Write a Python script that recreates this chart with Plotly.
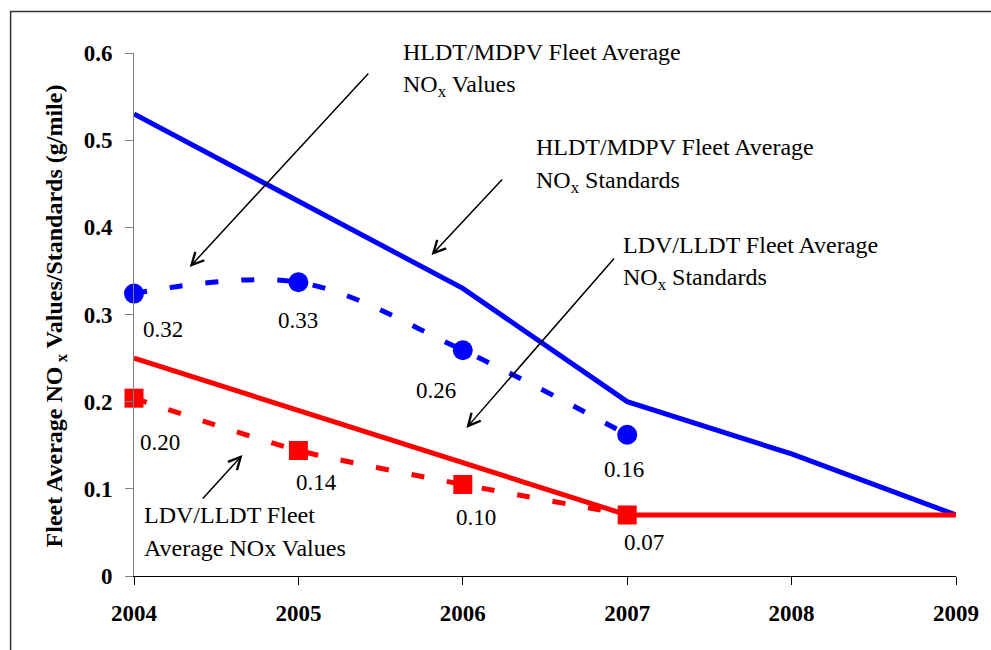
import plotly.graph_objects as go

# ---------------- data ----------------
years = [2004, 2005, 2006, 2007, 2008, 2009]
hldt_std = [0.53, 0.43, 0.33, 0.20, 0.14, 0.07]
ldv_std = [0.25, 0.19, 0.13, 0.07, 0.07, 0.07]
value_years = [2004, 2005, 2006, 2007]
hldt_val = [0.324, 0.337, 0.259, 0.162]
ldv_val = [0.204, 0.144, 0.105, 0.07]
hldt_labels = ["0.32", "0.33", "0.26", "0.16"]
ldv_labels = ["0.20", "0.14", "0.10", "0.07"]
y_ticks = [0, 0.1, 0.2, 0.3, 0.4, 0.5, 0.6]
y_ticktext = ["0", "0.1", "0.2", "0.3", "0.4", "0.5", "0.6"]
y_title = "Fleet Average NO<sub> x</sub> Values/Standards (g/mile)"

BLUE = "#0000FF"
RED = "#FF0000"
FONT = "Liberation Serif, Times New Roman, serif"

W, H = 991, 650
L, R, T, B = 134, 31, 53, 74
PW, PH = W - L - R, H - T - B


def px(x):
    return (x - L) / PW


def py(y):
    return (H - B - y) / PH


fig = go.Figure()

fig.add_trace(go.Scatter(x=years, y=hldt_std, mode="lines",
                         line=dict(color=BLUE, width=5), cliponaxis=False,
                         name="HLDT/MDPV Fleet Average NOx Standards"))
fig.add_trace(go.Scatter(x=years, y=ldv_std, mode="lines",
                         line=dict(color=RED, width=5), cliponaxis=False,
                         name="LDV/LLDT Fleet Average NOx Standards"))
fig.add_trace(go.Scatter(x=value_years, y=hldt_val, mode="lines+markers",
                         line=dict(color=BLUE, width=5, dash="13px,23px",
                                   shape="spline", smoothing=1),
                         marker=dict(symbol="circle", size=20, color=BLUE),
                         cliponaxis=False,
                         name="HLDT/MDPV Fleet Average NOx Values"))
fig.add_trace(go.Scatter(x=value_years, y=ldv_val, mode="lines+markers",
                         line=dict(color=RED, width=5, dash="13px,23px",
                                   shape="spline", smoothing=0.6),
                         marker=dict(symbol="square", size=19, color=RED),
                         cliponaxis=False,
                         name="LDV/LLDT Fleet Average NOx Values"))

annotations = []
lab_font = dict(family=FONT, size=23, color="black")
call_font = dict(family=FONT, size=24, color="black")

# data labels
hldt_off = [(29, -36), (0, -38), (-27, -40), (-3, -35)]
ldv_off = [(26, -44), (18, -32), (13, -33), (17, -28)]
for xv, yv, t, (dx, dy) in zip(value_years, hldt_val, hldt_labels, hldt_off):
    annotations.append(dict(x=xv, y=yv, xref="x", yref="y", text=t, showarrow=False,
                            xshift=dx, yshift=dy, font=lab_font))
for xv, yv, t, (dx, dy) in zip(value_years, ldv_val, ldv_labels, ldv_off):
    annotations.append(dict(x=xv, y=yv, xref="x", yref="y", text=t, showarrow=False,
                            xshift=dx, yshift=dy, font=lab_font))

# callout texts
callouts = [
    (402, 52, "HLDT/MDPV Fleet Average"),
    (402, 86, "NO<sub>x</sub> Values"),
    (536, 147, "HLDT/MDPV Fleet Average"),
    (536, 182, "NO<sub>x</sub> Standards"),
    (623, 245, "LDV/LLDT Fleet Average"),
    (623, 279, "NO<sub>x</sub> Standards"),
    (142, 515, "LDV/LLDT Fleet"),
    (142, 548, "Average NOx Values"),
]
for cx, cy, t in callouts:
    annotations.append(dict(x=px(cx), y=py(cy), xref="paper", yref="paper", text=t,
                            showarrow=False, xanchor="left", yanchor="middle",
                            font=call_font))

# arrows (tail -> head)
arrows = [
    ((370, 72), (190, 267)),
    ((505, 178), (433, 255)),
    ((617, 257), (468, 428)),
    ((202, 500), (243, 455)),
]
for (tx, ty), (hx, hy) in arrows:
    annotations.append(dict(x=px(hx), y=py(hy), ax=tx - hx, ay=ty - hy,
                            xref="paper", yref="paper", axref="pixel", ayref="pixel",
                            text="", showarrow=True, arrowhead=5, arrowsize=1.6,
                            arrowwidth=1.5, arrowcolor="black"))

# y-axis title
annotations.append(dict(x=px(56), y=py(316), xref="paper", yref="paper", text=y_title,
                        showarrow=False, textangle=-90, xanchor="center", yanchor="middle",
                        font=dict(family=FONT, size=24, color="black", weight="bold")))

fig.update_layout(
    width=W, height=H,
    margin=dict(l=L, r=R, t=T, b=B),
    paper_bgcolor="white", plot_bgcolor="white",
    showlegend=False,
    font=dict(family=FONT, color="black"),
    annotations=annotations,
    shapes=[dict(type="rect", xref="paper", yref="paper",
                 x0=px(10), x1=px(1010), y0=py(680), y1=py(11.5),
                 line=dict(color="#333333", width=1.5), layer="below")],
    xaxis=dict(range=[2004, 2009], tickvals=years, ticktext=[str(y) for y in years],
               showgrid=False, zeroline=False, showline=True, linecolor="black",
               linewidth=1, ticks="outside", ticklen=8, tickcolor="black",
               ticklabelstandoff=8,
               tickfont=dict(family=FONT, size=23, color="black", weight="bold")),
    yaxis=dict(range=[0, 0.6], tickvals=y_ticks, ticktext=y_ticktext,
               showgrid=False, zeroline=False, showline=True, linecolor="#808080",
               linewidth=1, ticks="outside", ticklen=8, tickcolor="#808080",
               ticklabelstandoff=8,
               tickfont=dict(family=FONT, size=23, color="black", weight="bold")),
)

fig.write_html("out.html")
